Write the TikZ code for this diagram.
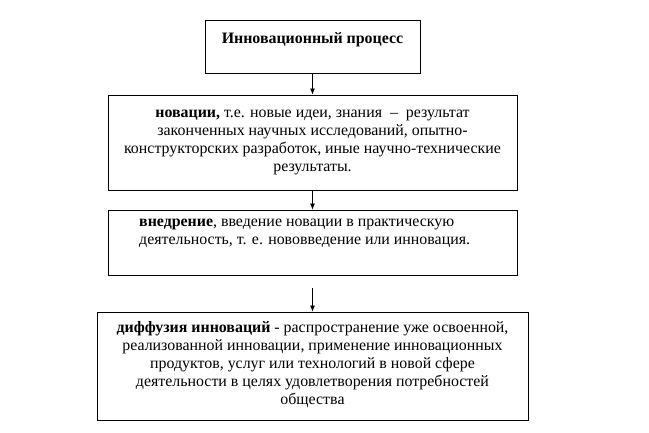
\documentclass[tikz,border=0pt]{standalone}
\usepackage{fontspec}
\setmainfont{Liberation Serif}
\usetikzlibrary{arrows.meta}
\begin{document}
\begin{tikzpicture}[x=1pt,y=-1pt,
  bx/.style={draw,line width=0.8pt,inner sep=0pt},
  txt/.style={font=\fontsize{15.9}{18}\selectfont,align=center,inner sep=0pt},
  arr/.style={-{Latex[length=6pt,width=5pt]},line width=0.8pt}]
\useasboundingbox (0,0) rectangle (649,433);
\node[bx,minimum width=215pt,minimum height=53pt] (b1) at (312.5,46.5) {};
\node[txt] (t1) at (312.5,40) {\textbf{Инновационный процесс}};
\node[bx,minimum width=409pt,minimum height=95pt] (b2) at (312.5,142.5) {};
\node[txt] (t2) at (312.5,142) {\textbf{новации,} т.е. новые идеи, знания \ -- \ результат\\законченных научных исследований, опытно-\\конструкторских разработок, иные научно-технические\\результаты.};
\node[bx,minimum width=409pt,minimum height=65pt] (b3) at (312.5,242.5) {};
\node[txt,align=left,anchor=north west] (t3) at (139,219) {\textbf{внедрение}, введение новации в практическую\\деятельность, т. е. нововведение или инновация.};
\node[bx,minimum width=431pt,minimum height=108pt] (b4) at (312.5,366) {};
\node[txt] (t4) at (312.5,365) {\textbf{диффузия инноваций} - распространение уже освоенной,\\реализованной инновации, применение инновационных\\продуктов, услуг или технологий в новой сфере\\деятельности в целях удовлетворения потребностей\\общества};
\draw[arr] (b1.south) -- (b2.north);
\draw[arr] (b2.south) -- (b3.north);
\coordinate (c4) at (312.5,288);
\draw[arr] (c4) -- (b4.north);
\end{tikzpicture}
\end{document}
